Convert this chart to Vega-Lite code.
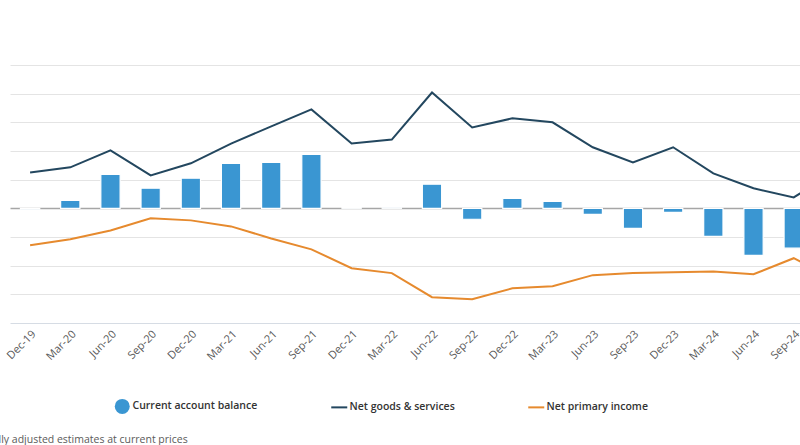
{
  "$schema": "https://vega.github.io/schema/vega-lite/v6.json",
  "autosize": {"type": "none"},
  "width": 790,
  "height": 258,
  "padding": {"left": 10, "top": 65, "right": 0, "bottom": 122},
  "background": "white",
  "config": {
    "font": "Open Sans",
    "view": {"stroke": null},
    "axis": {"labelFont": "Open Sans", "titleFont": "Open Sans"},
    "legend": {"labelFont": "Open Sans"}
  },
  "title": {
    "text": "Seasonally adjusted estimates at current prices",
    "orient": "bottom",
    "anchor": "start",
    "dx": -47,
    "offset": 21,
    "fontSize": 10.5,
    "fontWeight": "normal",
    "color": "#5a5a5a",
    "font": "Open Sans"
  },
  "data": {
    "values": [
      {"q": "Dec-19", "series": "Current account balance", "value": -300},
      {"q": "Mar-20", "series": "Current account balance", "value": 2800},
      {"q": "Jun-20", "series": "Current account balance", "value": 11800},
      {"q": "Sep-20", "series": "Current account balance", "value": 7000},
      {"q": "Dec-20", "series": "Current account balance", "value": 10500},
      {"q": "Mar-21", "series": "Current account balance", "value": 15700},
      {"q": "Jun-21", "series": "Current account balance", "value": 16000},
      {"q": "Sep-21", "series": "Current account balance", "value": 18800},
      {"q": "Dec-21", "series": "Current account balance", "value": 300},
      {"q": "Mar-22", "series": "Current account balance", "value": 200},
      {"q": "Jun-22", "series": "Current account balance", "value": 8400},
      {"q": "Sep-22", "series": "Current account balance", "value": -3800},
      {"q": "Dec-22", "series": "Current account balance", "value": 3500},
      {"q": "Mar-23", "series": "Current account balance", "value": 2400},
      {"q": "Jun-23", "series": "Current account balance", "value": -2100},
      {"q": "Sep-23", "series": "Current account balance", "value": -7000},
      {"q": "Dec-23", "series": "Current account balance", "value": -1400},
      {"q": "Mar-24", "series": "Current account balance", "value": -9800},
      {"q": "Jun-24", "series": "Current account balance", "value": -16400},
      {"q": "Sep-24", "series": "Current account balance", "value": -13900},
      {"q": "Dec-24", "series": "Current account balance", "value": -12500},
      {"q": "Dec-19", "series": "Net goods & services", "value": 12500},
      {"q": "Mar-20", "series": "Net goods & services", "value": 14300},
      {"q": "Jun-20", "series": "Net goods & services", "value": 20200},
      {"q": "Sep-20", "series": "Net goods & services", "value": 11500},
      {"q": "Dec-20", "series": "Net goods & services", "value": 15700},
      {"q": "Mar-21", "series": "Net goods & services", "value": 22600},
      {"q": "Jun-21", "series": "Net goods & services", "value": 28600},
      {"q": "Sep-21", "series": "Net goods & services", "value": 34500},
      {"q": "Dec-21", "series": "Net goods & services", "value": 22600},
      {"q": "Mar-22", "series": "Net goods & services", "value": 24000},
      {"q": "Jun-22", "series": "Net goods & services", "value": 40400},
      {"q": "Sep-22", "series": "Net goods & services", "value": 28200},
      {"q": "Dec-22", "series": "Net goods & services", "value": 31400},
      {"q": "Mar-23", "series": "Net goods & services", "value": 30000},
      {"q": "Jun-23", "series": "Net goods & services", "value": 21300},
      {"q": "Sep-23", "series": "Net goods & services", "value": 16000},
      {"q": "Dec-23", "series": "Net goods & services", "value": 21300},
      {"q": "Mar-24", "series": "Net goods & services", "value": 12200},
      {"q": "Jun-24", "series": "Net goods & services", "value": 7000},
      {"q": "Sep-24", "series": "Net goods & services", "value": 3800},
      {"q": "Dec-24", "series": "Net goods & services", "value": 12500},
      {"q": "Dec-19", "series": "Net primary income", "value": -12900},
      {"q": "Mar-20", "series": "Net primary income", "value": -10800},
      {"q": "Jun-20", "series": "Net primary income", "value": -7700},
      {"q": "Sep-20", "series": "Net primary income", "value": -3500},
      {"q": "Dec-20", "series": "Net primary income", "value": -4200},
      {"q": "Mar-21", "series": "Net primary income", "value": -6300},
      {"q": "Jun-21", "series": "Net primary income", "value": -10500},
      {"q": "Sep-21", "series": "Net primary income", "value": -14300},
      {"q": "Dec-21", "series": "Net primary income", "value": -20900},
      {"q": "Mar-22", "series": "Net primary income", "value": -22600},
      {"q": "Jun-22", "series": "Net primary income", "value": -31000},
      {"q": "Sep-22", "series": "Net primary income", "value": -31700},
      {"q": "Dec-22", "series": "Net primary income", "value": -27900},
      {"q": "Mar-23", "series": "Net primary income", "value": -27200},
      {"q": "Jun-23", "series": "Net primary income", "value": -23300},
      {"q": "Sep-23", "series": "Net primary income", "value": -22600},
      {"q": "Dec-23", "series": "Net primary income", "value": -22300},
      {"q": "Mar-24", "series": "Net primary income", "value": -22000},
      {"q": "Jun-24", "series": "Net primary income", "value": -23000},
      {"q": "Sep-24", "series": "Net primary income", "value": -17400},
      {"q": "Dec-24", "series": "Net primary income", "value": -24500}
    ]
  },
  "encoding": {
    "x": {
      "field": "q",
      "type": "ordinal",
      "sort": null,
      "scale": {"range": [0, 844], "paddingInner": 0.52, "paddingOuter": 0.26},
      "axis": {
        "title": null,
        "labelAngle": -45,
        "labelFontSize": 11,
        "labelColor": "#595959",
        "labelPadding": 5,
        "ticks": false,
        "domainColor": "#d6dce4",
        "domainWidth": 1,
        "grid": false
      }
    },
    "y": {
      "field": "value",
      "type": "quantitative",
      "scale": {"domain": [-40000, 50000], "nice": false, "zero": false},
      "axis": {
        "title": null,
        "labels": false,
        "ticks": false,
        "domain": false,
        "values": [-30000, -20000, -10000, 0, 10000, 20000, 30000, 40000, 50000],
        "gridColor": {"condition": {"test": "datum.value === 0", "value": "#a6a6a6"}, "value": "#e4e4e4"},
        "gridWidth": {"condition": {"test": "datum.value === 0", "value": 1.5}, "value": 1}
      }
    },
    "color": {
      "field": "series",
      "type": "nominal",
      "scale": {
        "domain": ["Current account balance", "Net goods & services", "Net primary income"],
        "range": ["#3a96d2", "#23475f", "#e68a2e"]
      },
      "legend": {
        "orient": "none",
        "legendX": 107,
        "legendY": 336,
        "direction": "horizontal",
        "title": null,
        "labelFontSize": 10.5,
        "labelFontWeight": 600,
        "labelColor": "#333333",
        "labelOffset": 5,
        "columnPadding": 69,
        "symbolSize": 256,
        "encode": {
          "symbols": {
            "update": {
              "shape": {"signal": "datum.label === 'Current account balance' ? 'circle' : 'stroke'"},
              "size": {"signal": "datum.label === 'Current account balance' ? 225 : 256"},
              "strokeWidth": {"signal": "datum.label === 'Current account balance' ? 0 : 2"}
            }
          }
        }
      }
    }
  },
  "layer": [
    {
      "transform": [{"filter": "datum.series === 'Current account balance'"}],
      "mark": {"type": "bar", "stroke": "white", "strokeWidth": 1.2, "clip": true}
    },
    {
      "transform": [{"filter": "datum.series !== 'Current account balance'"}],
      "mark": {"type": "line", "strokeWidth": 2, "clip": true}
    }
  ]
}
